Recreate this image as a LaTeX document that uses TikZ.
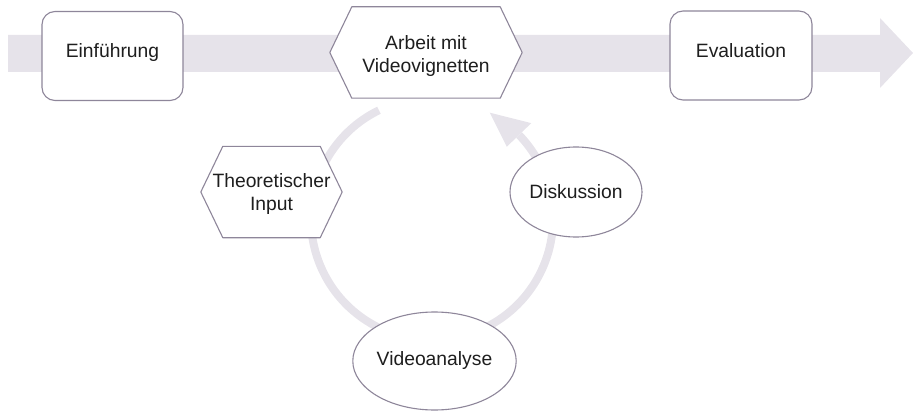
\documentclass[tikz,border=0pt]{standalone}
\usepackage{fontspec}
\setmainfont{Liberation Sans}
\usetikzlibrary{shapes.geometric,calc}
\definecolor{flow}{RGB}{230,227,234}
\definecolor{edge}{RGB}{142,134,154}
\definecolor{ink}{RGB}{30,30,30}
\tikzset{
  lbl/.style={font=\fontsize{19.3}{23}\selectfont, text=ink, align=center, inner sep=0pt},
  stagebox/.style={lbl, draw=edge, line width=1.1pt, fill=white, rounded corners=13pt,
    text height=14pt, text depth=10pt},
  hexbase/.style={lbl, minimum width=#1, minimum height=91pt},
  hexline/.style={draw=edge, line width=1.1pt, fill=white, line join=round},
  oval/.style={lbl, ellipse, draw=edge, line width=1.1pt, fill=white},
}
\begin{document}
\begin{tikzpicture}[x=1pt,y=-1pt]
\useasboundingbox (0,0) rectangle (914,412);

% main timeline arrow
\fill[flow] (8,35) -- (880,35) -- (880,18) -- (913,53) -- (880,88) -- (880,72) -- (8,72) -- cycle;

% cycle ring with its arrowhead
\coordinate (ctr) at (432,219);
\draw[flow, line width=8pt] (ctr) ++(244:121) arc[start angle=244, end angle=-44, radius=121];
\fill[flow] ($(ctr)+(-44:138)$) -- ($(ctr)+(-61.5:121)$) -- ($(ctr)+(-44:104)$) -- cycle;

% stages on the timeline
\node[stagebox, minimum width=141pt, minimum height=89pt] (intro) at (112.5,56) {Einführung};
\node[stagebox, minimum width=142pt, minimum height=89pt] (eval) at (741,55.5) {Evaluation};

% hexagon: work with video vignettes
\node[hexbase=192pt] (work) at (426,52.5) {};
\draw[hexline] (work.west) -- ([xshift=22pt]work.north west) -- ([xshift=-22pt]work.north east)
  -- (work.east) -- ([xshift=-22pt]work.south east) -- ([xshift=22pt]work.south west) -- cycle;
\node[lbl] (worktxt) at ([yshift=-4pt]work.center) {Arbeit mit\\Videovignetten};

% hexagon: theoretical input
\node[hexbase=141pt] (theory) at (271.5,192) {};
\draw[hexline] (theory.west) -- ([xshift=22pt]theory.north west) -- ([xshift=-22pt]theory.north east)
  -- (theory.east) -- ([xshift=-22pt]theory.south east) -- ([xshift=22pt]theory.south west) -- cycle;
\node[lbl] (theorytxt) at ([yshift=-2pt]theory.center) {Theoretischer\\Input};

% ellipses on the cycle
\node[oval, minimum width=132pt, minimum height=90pt] (disc) at (576,192) {Diskussion};
\node[oval, minimum width=135pt, minimum height=98pt] (ana) at (434.5,361) {Videoanalyse};
\end{tikzpicture}
\end{document}
